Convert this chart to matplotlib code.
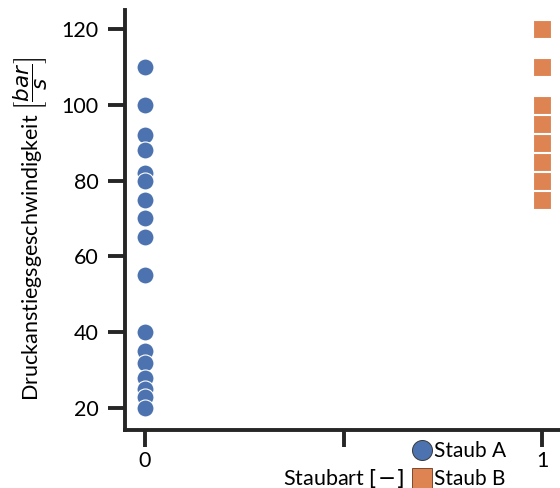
import matplotlib
matplotlib.use("Agg")
import matplotlib.pyplot as plt
from matplotlib.lines import Line2D

plt.rcParams['font.family'] = ['Lato', 'DejaVu Sans']
plt.rcParams['mathtext.fontset'] = 'dejavusans'

# Pressure-rise rates per dust type
staub_a = [110, 100, 92, 88, 82, 80, 75, 70, 65, 55, 40, 35, 32, 28, 25, 23, 20]
staub_b = [120, 110, 100, 95, 90, 85, 80, 75]
categories = [0, 1]
series_names = ["Staub A", "Staub B"]
x_ticks = [0, 0.5, 1]
x_ticklabels = ["0", "", "1"]
y_ticks = [20, 40, 60, 80, 100, 120]

blue = "#4C72B0"
orange = "#DD8452"
fs = 15.5

fig = plt.figure(figsize=(5.6, 4.88), dpi=100)
ax = fig.add_axes([125 / 560, 58 / 488, 437 / 560, 420 / 488])

ax.scatter([categories[0]] * len(staub_a), staub_a, s=150, marker="o",
           color=blue, edgecolor="white", linewidth=0.8, zorder=3)
ax.scatter([categories[1]] * len(staub_b), staub_b, s=150, marker="s",
           color=orange, edgecolor="white", linewidth=0.8, zorder=3)

ax.set_xlim(-0.05, 1.05)
ax.set_ylim(14.2, 125)
ax.set_xticks(x_ticks)
ax.set_xticklabels(x_ticklabels)
ax.set_yticks(y_ticks)

for side in ("top", "right"):
    ax.spines[side].set_visible(False)
for side in ("left", "bottom"):
    ax.spines[side].set_linewidth(2.8)
    ax.spines[side].set_color("#262626")
ax.tick_params(axis="both", length=12, width=2.8, color="#262626",
               labelsize=fs)
ax.tick_params(axis="y", pad=7)
ax.tick_params(axis="x", pad=3)

ax.set_ylabel(r"Druckanstiegsgeschwindigkeit $\left[\dfrac{bar}{s}\right]$",
              fontsize=fs)
ax.yaxis.set_label_coords(-0.172, 0.48)
ax.set_xlabel(r"Staubart $\left[-\right]$", fontsize=fs)
ax.xaxis.set_label_coords(0.5, -0.088)

handles = [
    Line2D([], [], marker="o", linestyle="", markersize=14.4,
           markerfacecolor=blue, markeredgecolor="#3a3a3a", markeredgewidth=0.7),
    Line2D([], [], marker="s", linestyle="", markersize=14.4,
           markerfacecolor=orange, markeredgecolor="#7a4a30", markeredgewidth=0.7),
]
fig.legend(handles, series_names, loc="upper left",
           bbox_to_anchor=(412 / 560, 1 - 441 / 488), frameon=False,
           fontsize=15, handlelength=1.0, handletextpad=0.05,
           labelspacing=0.38, borderaxespad=0, borderpad=0)

fig.savefig("out.png", dpi=100)
